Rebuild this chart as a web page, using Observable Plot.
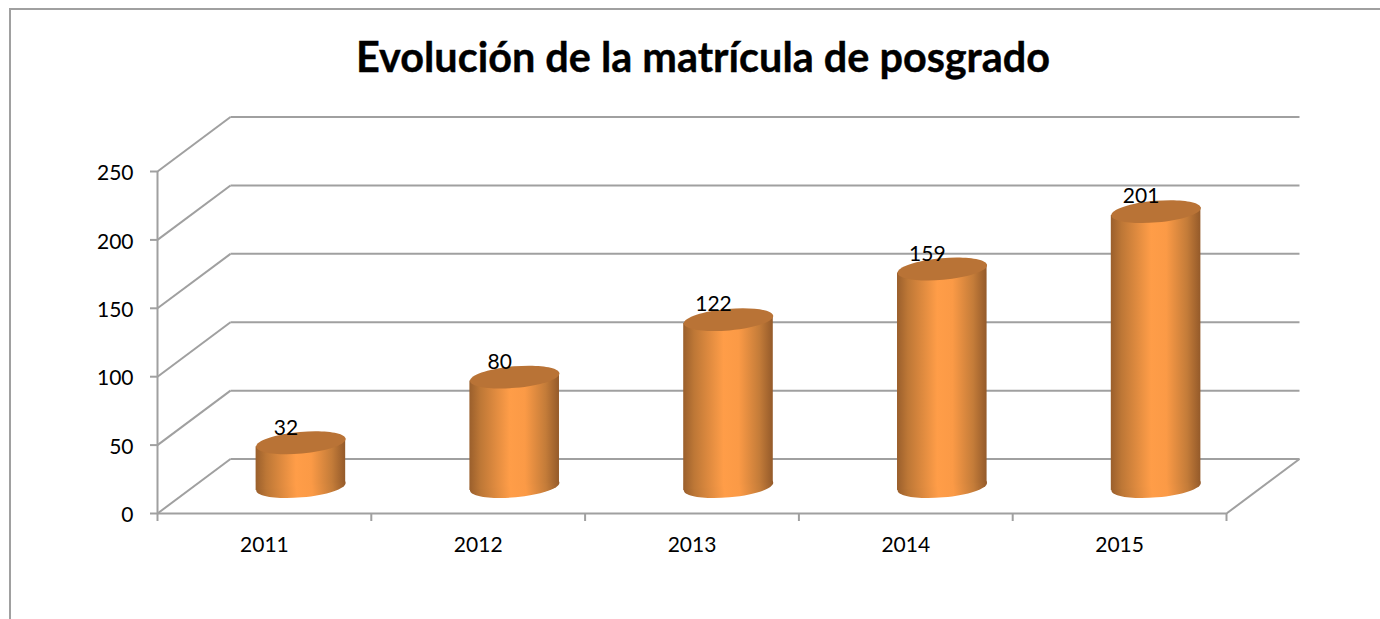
<!DOCTYPE html>
<html lang="es">
<head>
<meta charset="utf-8">
<script src="https://cdn.jsdelivr.net/npm/d3@7"></script>
<script src="https://cdn.jsdelivr.net/npm/@observablehq/plot@0.6"></script>
<style>
  html, body { margin: 0; padding: 0; background: #fff; width: 1380px; height: 619px; overflow: hidden; }
  #chart { position: relative; width: 1380px; height: 619px; font-family: Lato, sans-serif; color: #000; }
  #border { position: absolute; left: 9px; top: 8px; right: 0; bottom: 0; border-left: 2px solid #a0a0a0; border-top: 2px solid #a0a0a0; pointer-events: none; }
  #title { position: absolute; left: 0; top: 29px; width: 1406px; text-align: center; font-size: 41.4px; line-height: 54px; font-weight: 700; -webkit-text-stroke: 0.4px #000; }
  svg { position: absolute; left: 0; top: 0; background: transparent; }
</style>
</head>
<body>
<div id="chart">
  <div id="border"></div>
  <div id="title">Evolución de la matrícula de posgrado</div>
</div>
<script>
const years = ["2011", "2012", "2013", "2014", "2015"];
const matricula = [32, 80, 122, 159, 201];
const valueTicks = [0, 50, 100, 150, 200, 250];

// Oblique projection of the chart's depth, in data units of each scale
const depthX = 0.3414;
const depthY = 39.8;
const halfWidth = 0.2095;
const tilt = 2.9;
const barDepth = 0.495;
const gridColor = "#a0a0a0";
const slots = years.map((_, i) => i);

const cylinders = years.map((year, i) => ({
  year, value: matricula[i],
  cx: i + 0.5 + depthX * 0.5,
  base: depthY * barDepth,
  top: depthY * barDepth + matricula[i]
}));
const bodies = cylinders.flatMap(d => [
  {year: d.year, x: d.cx - halfWidth, y1: d.base - tilt, y2: d.top - tilt},
  {year: d.year, x: d.cx + halfWidth, y1: d.base + tilt, y2: d.top + tilt}
]);
const boundaries = d3.range(0, years.length + 1);

const ellipse = (rx, ry) => ({
  draw(c) {
    const k = 0.5522848;
    c.moveTo(-rx, 0);
    c.bezierCurveTo(-rx, -k * ry, -k * rx, -ry, 0, -ry);
    c.bezierCurveTo(k * rx, -ry, rx, -k * ry, rx, 0);
    c.bezierCurveTo(rx, k * ry, k * rx, ry, 0, ry);
    c.bezierCurveTo(-k * rx, ry, -rx, k * ry, -rx, 0);
    c.closePath();
  }
});
const capSymbol = ellipse(44.9, 10.8);

const defs = () => {
  const s = d3.create("svg:defs");
  const g = s.append("linearGradient").attr("id", "cyl").attr("x1", 0).attr("x2", 1).attr("y1", 0).attr("y2", 0);
  [[0, "#9a5f2c"], [0.12, "#bd7736"], [0.45, "#ff9d48"], [0.62, "#fb9a46"], [0.85, "#c47c39"], [1, "#945a2a"]]
    .forEach(([o, c]) => g.append("stop").attr("offset", o).attr("stop-color", c));
  return s.node();
};

const plot = Plot.plot({
  width: 1380, height: 619,
  marginLeft: 157, marginRight: 154, marginTop: 171, marginBottom: 106,
  x: {type: "linear", domain: [0, years.length]},
  y: {domain: [0, 250]},
  style: {fontFamily: "Lato, sans-serif", background: "transparent", color: "#000"},
  marks: [
    defs,
    // side wall and back wall gridlines
    Plot.link(valueTicks, {x1: 0, y1: d => d, x2: depthX, y2: d => d + depthY, stroke: gridColor, strokeWidth: 2}),
    Plot.link(valueTicks, {x1: depthX, y1: d => d + depthY, x2: years.length + depthX, y2: d => d + depthY, stroke: gridColor, strokeWidth: 2}),
    // floor and axis lines
    Plot.link([0], {x1: years.length, y1: 0, x2: years.length + depthX, y2: depthY, stroke: gridColor, strokeWidth: 2}),
    Plot.ruleY([0], {x1: 0, x2: years.length, stroke: gridColor, strokeWidth: 2}),
    Plot.ruleX([0], {y1: 0, y2: 250, stroke: gridColor, strokeWidth: 2}),
    Plot.axisY({ticks: valueTicks, tickSize: 7, stroke: gridColor, strokeWidth: 2, label: null, tickFormat: () => ""}),
    Plot.axisX({ticks: boundaries, tickSize: 8, tickPadding: 0, stroke: gridColor, strokeWidth: 2, label: null, tickFormat: () => ""}),
    Plot.text(valueTicks, {x: 0, y: d => d, text: d => `${d}`, dx: -24, dy: 2, textAnchor: "end", fontSize: 21, fill: "#000"}),
    Plot.text(slots, {x: d => d + 0.5, y: 0, text: d => years[d], dy: 32, fontSize: 21, fill: "#000"}),
    // cylinders
    Plot.dot(cylinders, {x: "cx", y: "base", symbol: capSymbol, r: 5, fill: "url(#cyl)", stroke: "none", rotate: -5}),
    Plot.areaY(bodies, {x: "x", y1: "y1", y2: "y2", z: "year", fill: "url(#cyl)", stroke: "none"}),
    Plot.dot(cylinders, {x: "cx", y: "top", symbol: capSymbol, r: 5, fill: "#b97336", stroke: "none", rotate: -5}),
    // data labels
    Plot.text(cylinders, {x: "cx", y: "top", text: d => `${d.value}`, dx: -15, dy: -15, fontSize: 21, fill: "#000"})
  ]
});
document.getElementById("chart").appendChild(plot);
</script>
</body>
</html>
